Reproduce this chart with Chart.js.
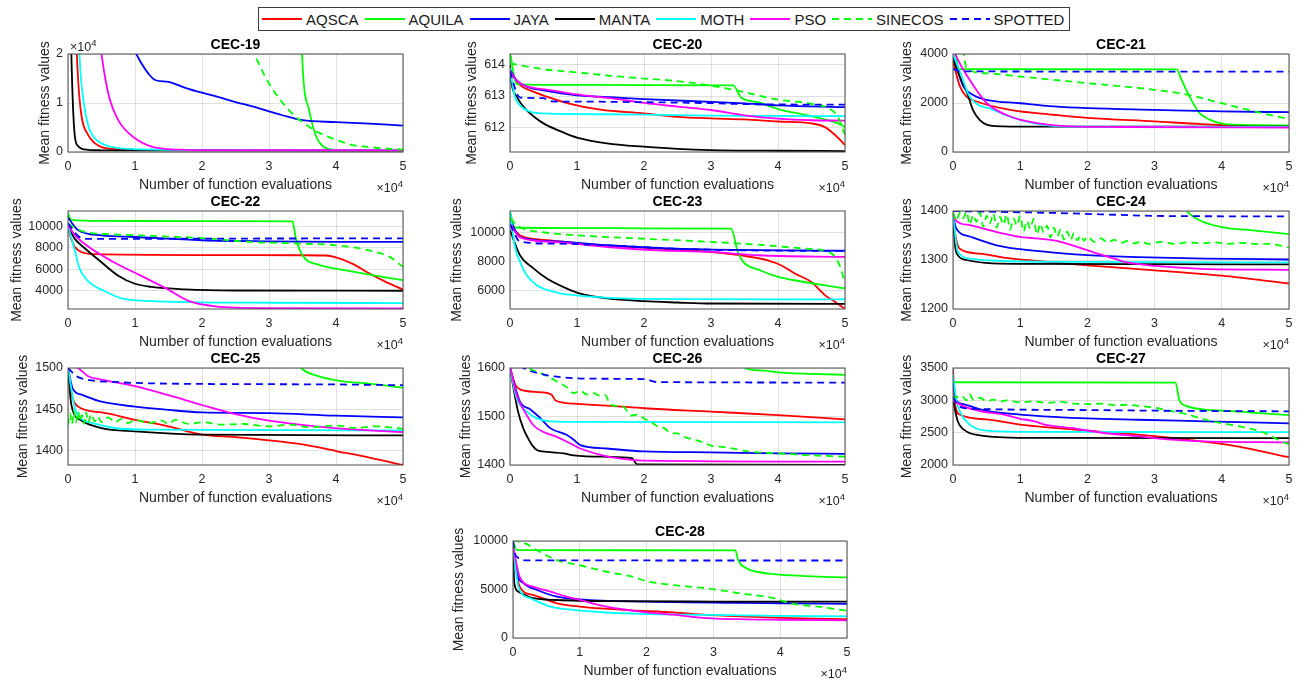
<!DOCTYPE html>
<html>
<head>
<meta charset="utf-8">
<script src="https://cdn.jsdelivr.net/npm/chart.js@4"></script>
<style>
  body { margin: 0; width: 1306px; height: 682px; background: #fff; overflow: hidden; position: relative;
         font-family: "Liberation Sans", Arial, sans-serif; }
  .panel { position: absolute; }
  #legend { position: absolute; left: 258px; top: 7px; width: 812px; height: 24px; box-sizing: border-box;
            border: 1px solid #3c3c3c; background: #fff; display: flex; align-items: center; padding-left: 3px;
            font-size: 15px; color: #1a1a1a; }
  .item { display: flex; align-items: center; margin-right: 6px; }
  .swatch { width: 40px; height: 2px; margin-right: 4px; }
</style>
</head>
<body>
<div id="legend"></div>
<script>
const algorithms = ['AQSCA', 'AQUILA', 'JAYA', 'MANTA', 'MOTH', 'PSO', 'SINECOS', 'SPOTTED'];
const xTickValues = [0, 1, 2, 3, 4, 5];   // x in units of 10^4 function evaluations

// CEC-19
const cec19_AQSCA = [[0,60000],[0.05,45000],[0.1,30000],[0.15,15000],[0.2,7500],[0.3,3500],[0.4,1800],[0.5,1000],[0.6,700],[0.75,550],[1,450],[1.5,420],[5,400]];
const cec19_AQUILA = [[0,90000],[3.3,80000],[3.45,40000],[3.5,18000],[3.6,8500],[3.75,2000],[4,450],[4.5,380],[5,370]];
const cec19_JAYA = [[0,60000],[0.5,35000],[0.9,23000],[1,20500],[1.1,18000],[1.2,16000],[1.3,14700],[1.5,14300],[1.75,13100],[2,12100],[2.25,11200],[2.5,10200],[2.75,9300],[3,8300],[3.2,7500],[3.5,6500],[4,6100],[4.5,5800],[5,5400]];
const cec19_MANTA = [[0,60000],[0.05,20000],[0.1,3500],[0.15,1200],[0.2,700],[0.3,450],[0.5,350],[1,320],[5,300]];
const cec19_MOTH = [[0,60000],[0.1,40000],[0.15,25000],[0.2,14000],[0.3,5500],[0.4,2800],[0.5,1800],[0.6,1200],[0.75,800],[1,600],[1.5,450],[2,400],[5,380]];
const cec19_PSO = [[0,90000],[0.4,32000],[0.5,20000],[0.6,12000],[0.75,6500],[1,2800],[1.25,1100],[1.5,600],[1.75,450],[2,400],[5,350]];
const cec19_SINECOS = [[0,90000],[2.5,30000],[2.75,21000],[3,14000],[3.3,8500],[3.5,6100],[3.75,3900],[4,2500],[4.25,1400],[4.5,1000],[4.75,700],[5,500]];
const cec19_SPOTTED = [[0,90000],[5,80000]];

// CEC-20
const cec20_AQSCA = [[0,613.75],[0.15,613.35],[0.3,613.18],[0.55,612.98],[0.85,612.77],[1.35,612.56],[2,612.44],[2.5,612.33],[3,612.28],[3.5,612.25],[4,612.18],[4.5,612.12],[4.7,612.0],[4.9,611.65],[5,611.42]];
const cec20_AQUILA = [[0,614.4],[0.1,613.38],[0.5,613.36],[2,613.35],[3.33,613.34],[3.45,612.95],[3.7,612.8],[4,612.58],[4.5,612.35],[4.9,612.12],[5,612.0]];
const cec20_JAYA = [[0,613.85],[0.1,613.5],[0.25,613.3],[0.5,613.18],[1,613.02],[1.5,612.96],[2,612.9],[3,612.81],[3.5,612.76],[4,612.7],[5,612.64]];
const cec20_MANTA = [[0,614.0],[0.025,613.4],[0.1,612.98],[0.2,612.66],[0.35,612.35],[0.5,612.12],[0.75,611.87],[1,611.66],[1.5,611.46],[2,611.37],[2.5,611.3],[3,611.26],[4,611.24],[5,611.23]];
const cec20_MOTH = [[0,613.9],[0.07,613.0],[0.15,612.7],[0.3,612.5],[0.5,612.44],[1,612.42],[2,612.4],[3,612.37],[4,612.36],[5,612.35]];
const cec20_PSO = [[0,613.8],[0.1,613.5],[0.2,613.35],[0.6,613.19],[1,613.05],[1.5,612.93],[2,612.78],[2.5,612.66],[3,612.55],[3.5,612.38],[4,612.27],[4.5,612.22],[5,612.21]];
const cec20_SINECOS = [[0,614.05],[0.5,613.86],[1,613.76],[1.5,613.65],[2,613.56],[2.5,613.48],[3,613.33],[3.33,613.2],[3.7,613.02],[4,612.88],[4.5,612.75],[4.8,612.55],[4.9,612.3],[5,611.75]];
const cec20_SPOTTED = [[0,613.8],[0.1,613.1],[0.15,612.95],[0.5,612.93],[0.6,612.83],[1,612.82],[2,612.8],[3,612.77],[3.5,612.74],[5,612.72]];

// CEC-21
const cec21_AQSCA = [[0,3700],[0.1,2700],[0.2,2260],[0.35,2060],[0.85,1720],[1.5,1520],[2,1390],[3,1250],[3.7,1140],[4.5,1070],[5,1045]];
const cec21_AQUILA = [[0,4100],[0.05,3900],[0.08,3380],[1,3378],[3.33,3376],[3.4,2950],[3.52,2260],[3.67,1590],[3.82,1320],[4.02,1150],[4.5,1095],[5,1085]];
const cec21_JAYA = [[0,4000],[0.05,3500],[0.15,2700],[0.3,2330],[0.5,2130],[1,1990],[1.5,1860],[2,1790],[3,1720],[4,1655],[5,1625]];
const cec21_MANTA = [[0,3800],[0.1,3100],[0.2,2500],[0.3,1700],[0.4,1300],[0.5,1120],[0.75,1045],[1,1035],[5,1030]];
const cec21_MOTH = [[0,4000],[0.1,3300],[0.25,2260],[0.6,1720],[1,1310],[1.35,1110],[1.75,1040],[2.5,1030],[5,1020]];
const cec21_PSO = [[0,4300],[0.05,3900],[0.25,2940],[0.5,2000],[0.85,1450],[1.25,1180],[1.75,1050],[2.5,1020],[5,1000]];
const cec21_SINECOS = [[0,4500],[0.15,4100],[0.2,3420],[0.5,3210],[1,3080],[2,2810],[3,2540],[3.5,2330],[4,1990],[4.5,1650],[5,1340]];
const cec21_SPOTTED = [[0,3400],[0.1,3290],[5,3280]];

// CEC-22
const cec22_AQSCA = [[0,9800],[0.05,8800],[0.1,8100],[0.2,7600],[0.4,7400],[2,7320],[3.5,7300],[3.85,7280],[4,7100],[4.25,6500],[4.5,5600],[4.75,4800],[5,4120]];
const cec22_AQUILA = [[0,11200],[0.05,10600],[0.5,10500],[2,10480],[3.35,10450],[3.4,8900],[3.5,7300],[3.75,6400],[4,6050],[4.5,5500],[5,4990]];
const cec22_JAYA = [[0,10800],[0.15,9650],[0.5,9150],[1,9000],[2,8700],[3,8600],[4,8550],[5,8540]];
const cec22_MANTA = [[0,10000],[0.1,8850],[0.25,7950],[0.5,6650],[0.75,5400],[1,4650],[1.25,4350],[1.75,4120],[2.5,4020],[5,4000]];
const cec22_MOTH = [[0,10000],[0.1,7800],[0.17,6100],[0.3,4900],[0.55,3950],[0.8,3300],[1.2,3050],[2,2920],[3,2880],[5,2850]];
const cec22_PSO = [[0,10100],[0.1,9200],[0.27,8250],[0.67,6700],[1.07,5450],[1.47,4200],[1.8,3050],[2.2,2550],[3,2380],[5,2350]];
const cec22_SINECOS = [[0,10200],[0.25,9470],[0.75,9230],[1.25,9100],[2,8900],[2.7,8550],[3.5,8380],[4,8230],[4.5,7750],[4.8,7150],[5,6220]];
const cec22_SPOTTED = [[0,10300],[0.15,9100],[0.3,8820],[1,8830],[2,8850],[3,8860],[5,8870]];

// CEC-23
const cec23_AQSCA = [[0,10600],[0.15,9840],[0.6,9490],[1.35,9150],[2.2,8920],[3,8680],[3.45,8450],[3.85,8100],[4.05,7750],[4.25,7200],[4.5,6600],[4.7,5700],[4.85,5240],[5,4750]];
const cec23_AQUILA = [[0,11500],[0.07,10380],[1,10340],[2,10320],[3.3,10300],[3.4,8700],[3.48,8000],[3.73,7420],[4,6960],[4.33,6660],[4.68,6390],[5,6160]];
const cec23_JAYA = [[0,10900],[0.15,9720],[0.7,9420],[1.45,9150],[2.2,8960],[3,8850],[4,8800],[5,8770]];
const cec23_MANTA = [[0,10200],[0.15,8450],[0.35,7550],[0.55,6850],[0.85,6150],[1.05,5800],[1.45,5470],[2,5280],[2.5,5190],[3,5120],[5,5100]];
const cec23_MOTH = [[0,11500],[0.07,9150],[0.15,8000],[0.25,7080],[0.4,6390],[0.65,5930],[0.95,5700],[1.7,5470],[2.5,5420],[5,5400]];
const cec23_PSO = [[0,10600],[0.15,9700],[0.7,9370],[1.45,9030],[2.2,8800],[3,8690],[3.7,8460],[5,8340]];
const cec23_SINECOS = [[0,11000],[0.15,10400],[0.5,10050],[1,9840],[2,9600],[3,9380],[3.7,9190],[4.4,8920],[4.78,8640],[4.93,7650],[5,6500]];
const cec23_SPOTTED = [[0,10600],[0.15,9400],[0.7,9260],[1.45,9150],[2.45,8920],[3.45,8800],[5,8760]];

// CEC-24
const cec24_AQSCA = [[0,1385],[0.05,1340],[0.1,1323],[0.4,1313],[0.75,1305],[1.25,1298],[2,1289],[3,1279],[4,1268],[5,1252]];
const cec24_AQUILA = [[0,1430],[3.4,1420],[3.48,1400],[3.67,1381],[4,1367],[4.5,1360],[5,1353]];
const cec24_JAYA = [[0,1390],[0.05,1364],[0.25,1348],[0.65,1330],[1,1322],[1.5,1315],[2,1310],[2.75,1306],[3.75,1303],[5,1301]];
const cec24_MANTA = [[0,1390],[0.03,1330],[0.07,1310],[0.2,1300],[0.5,1294],[1,1292],[5,1291]];
const cec24_MOTH = [[0,1392],[0.07,1318],[0.25,1303],[0.75,1298],[2,1296],[5,1295]];
const cec24_PSO = [[0,1395],[0.05,1380],[0.25,1371],[0.75,1354],[1,1347],[1.5,1340],[1.85,1327],[2.15,1313],[2.4,1303],[2.55,1296],[2.75,1292],[3,1288],[3.7,1282],[5,1280]];
const cec24_SINECOS = [[0,1398],[0.05,1380],[0.1,1396],[0.15,1385],[0.2,1399],[0.25,1372],[0.3,1392],[0.35,1378],[0.4,1397],[0.45,1368],[0.5,1390],[0.55,1375],[0.6,1395],[0.65,1366],[0.7,1388],[0.75,1372],[0.8,1393],[0.85,1362],[0.9,1385],[0.95,1370],[1.0,1390],[1.05,1358],[1.1,1380],[1.15,1364],[1.2,1384],[1.25,1352],[1.3,1374],[1.35,1356],[1.4,1370],[1.45,1346],[1.5,1366],[1.55,1348],[1.6,1362],[1.65,1342],[1.7,1358],[1.75,1341],[1.8,1355],[1.85,1340],[1.9,1350],[1.95,1339],[2.0,1348],[2.1,1337],[2.2,1344],[2.3,1336],[2.4,1341],[2.5,1335],[2.6,1339],[2.7,1334],[2.8,1338],[2.9,1333],[3.1,1337],[3.3,1333],[3.5,1336],[3.7,1334],[3.9,1336],[4.1,1333],[4.3,1335],[4.5,1333],[4.7,1333],[4.85,1330],[5,1325]];
const cec24_SPOTTED = [[0,1400],[1.5,1396],[2.5,1392],[3,1390],[5,1389]];

// CEC-25
const cec25_AQSCA = [[0,1500],[0.05,1470],[0.15,1453],[0.5,1446],[1,1437],[1.5,1429],[2,1419],[2.5,1416],[3,1412],[3.5,1407],[4,1399],[4.5,1391],[5,1382]];
const cec25_AQUILA = [[0,1520],[3.4,1510],[3.48,1500],[3.7,1491],[4,1485],[4.5,1481],[5,1476]];
const cec25_JAYA = [[0,1500],[0.07,1475],[0.22,1467],[0.5,1459],[1,1453],[1.5,1449],[2,1446],[3,1445],[4,1442],[5,1440]];
const cec25_MANTA = [[0,1500],[0.05,1455],[0.2,1436],[0.5,1427],[1,1423],[2,1419],[5,1418]];
const cec25_MOTH = [[0,1500],[0.12,1447],[0.37,1433],[0.7,1427],[1.2,1425],[5,1424]];
const cec25_PSO = [[0,1505],[0.15,1500],[0.3,1490],[0.5,1486],[1,1478],[1.5,1467],[2,1455],[2.5,1444],[3,1436],[3.7,1429],[4.3,1425],[5,1422]];
const cec25_SINECOS = [[0,1430],[0.03,1445],[0.06,1432],[0.09,1448],[0.12,1434],[0.15,1447],[0.18,1435],[0.21,1443],[0.24,1432],[0.27,1446],[0.3,1434],[0.35,1444],[0.4,1435],[0.45,1441],[0.5,1434],[0.6,1440],[0.7,1434],[0.8,1438],[0.9,1433],[1,1437],[1.2,1433],[1.4,1436],[1.5,1432],[1.6,1437],[1.8,1432],[2,1434],[2.3,1431],[2.6,1432],[3,1429],[3.3,1431],[3.6,1428],[4,1430],[4.3,1427],[4.6,1429],[5,1426]];
const cec25_SPOTTED = [[0,1500],[0.15,1489],[0.7,1483],[1.5,1481],[4,1480],[5,1479]];

// CEC-26
const cec26_AQSCA = [[0,1600],[0.08,1565],[0.15,1556],[0.45,1550],[0.62,1545],[0.68,1533],[1,1526],[1.5,1522],[2,1517],[3,1510],[4,1503],[5,1494]];
const cec26_AQUILA = [[0,1640],[3.45,1620],[3.51,1600],[3.75,1595],[4,1591],[4.5,1588],[5,1586]];
const cec26_JAYA = [[0,1600],[0.15,1530],[0.3,1515],[0.45,1497],[0.6,1476],[0.85,1462],[0.95,1452],[1.05,1441],[1.45,1434],[2,1428],[3,1426],[4,1424],[5,1423]];
const cec26_MANTA = [[0,1600],[0.12,1510],[0.2,1475],[0.27,1455],[0.33,1441],[0.4,1431],[0.55,1427],[0.8,1424],[0.95,1420],[1.45,1417],[1.82,1414],[1.9,1401],[5,1400]];
const cec26_MOTH = [[0,1600],[0.1,1537],[0.25,1510],[0.4,1496],[0.6,1490],[1,1489],[5,1488]];
const cec26_PSO = [[0,1605],[0.1,1544],[0.22,1510],[0.35,1482],[0.5,1468],[0.7,1458],[0.85,1448],[1.05,1434],[1.35,1421],[1.6,1414],[2,1409],[5,1407]];
const cec26_SINECOS = [[0,1660],[0.2,1610],[0.3,1598],[0.45,1590],[0.6,1580],[0.7,1572],[0.85,1560],[0.95,1548],[1.05,1553],[1.15,1545],[1.25,1548],[1.34,1543],[1.42,1544],[1.5,1524],[1.6,1522],[1.7,1520],[1.75,1510],[1.8,1502],[1.9,1504],[2.0,1496],[2.1,1489],[2.2,1480],[2.3,1476],[2.4,1466],[2.5,1465],[2.6,1458],[2.75,1452],[2.9,1446],[3.0,1440],[3.2,1437],[3.4,1432],[3.6,1427],[4,1424],[4.5,1420],[5,1417]];
const cec26_SPOTTED = [[0,1620],[0.2,1600],[0.45,1588],[0.7,1582],[1.2,1578],[2,1577],[2.2,1571],[5,1570]];

// CEC-27
const cec27_AQSCA = [[0,3480],[0.03,2950],[0.1,2780],[0.5,2705],[1,2625],[1.5,2575],[2,2530],[2.75,2470],[3.5,2390],[4.25,2285],[5,2120]];
const cec27_AQUILA = [[0,3280],[3.31,3275],[3.37,3000],[3.48,2910],[3.72,2860],[4.2,2830],[4.5,2805],[5,2770]];
const cec27_JAYA = [[0,3300],[0.05,3000],[0.15,2940],[0.5,2835],[1,2780],[1.5,2745],[2,2720],[2.75,2700],[3.75,2676],[5,2645]];
const cec27_MANTA = [[0,3000],[0.07,2680],[0.2,2520],[0.4,2458],[0.75,2428],[1.25,2418],[5,2415]];
const cec27_MOTH = [[0,3400],[0.05,3000],[0.1,2833],[0.25,2625],[0.5,2530],[1,2512],[5,2508]];
const cec27_PSO = [[0,3000],[0.15,2910],[0.4,2835],[0.75,2780],[1,2715],[1.2,2680],[1.35,2630],[1.75,2573],[2.25,2495],[2.75,2445],[3.25,2392],[3.75,2365],[5,2350]];
const cec27_SINECOS = [[0,3010],[0.05,3060],[0.1,3020],[0.15,3050],[0.2,3000],[0.25,3090],[0.3,3010],[0.4,3040],[0.5,2985],[0.6,3010],[0.7,2980],[0.8,3000],[1,2970],[1.2,2985],[1.4,2960],[1.6,2975],[1.8,2950],[2,2940],[2.2,2950],[2.4,2925],[2.6,2930],[2.75,2915],[3,2885],[3.25,2833],[3.5,2780],[3.75,2700],[4.25,2600],[4.6,2510],[4.9,2360],[5,2320]];
const cec27_SPOTTED = [[0,3050],[0.1,2900],[0.3,2870],[2,2850],[3,2840],[5,2830]];

// CEC-28
const cec28_AQSCA = [[0,9000],[0.1,5300],[0.3,4440],[0.66,3580],[1,3240],[1.65,2900],[2.4,2630],[2.9,2390],[3.4,2220],[4.15,2050],[5,1945]];
const cec28_AQUILA = [[0,10000],[0.06,9050],[3.33,9040],[3.37,8020],[3.5,7170],[3.65,6830],[3.9,6590],[4.4,6380],[5,6240]];
const cec28_JAYA = [[0,9500],[0.06,6650],[0.16,5630],[0.36,4950],[0.66,4270],[1,3990],[2,3750],[4,3580],[5,3515]];
const cec28_MANTA = [[0,9000],[0.02,5630],[0.08,4780],[0.3,4100],[0.65,3920],[1.5,3800],[3,3760],[5,3750]];
const cec28_MOTH = [[0,9500],[0.08,5290],[0.26,4100],[0.56,3240],[0.9,2900],[1.4,2630],[1.9,2490],[2.9,2390],[3.9,2290],[5,2220]];
const cec28_PSO = [[0,9500],[0.1,6300],[0.3,5290],[0.56,4780],[0.8,4270],[1,3930],[1.4,3240],[1.9,2730],[2.4,2400],[2.9,2050],[3.5,1920],[4,1880],[5,1810]];
const cec28_SINECOS = [[0,10200],[0.06,10000],[0.2,9700],[0.36,9040],[0.66,8020],[1,7500],[1.4,6830],[1.8,6300],[2,5850],[2.4,5460],[2.9,5120],[3.4,4600],[3.9,4100],[4.15,3580],[4.65,3170],[5,2800]];
const cec28_SPOTTED = [[0,10000],[0.03,8700],[0.07,8300],[0.2,8000],[5,7990]];

const panelTitles = ['CEC-19','CEC-20','CEC-21','CEC-22','CEC-23','CEC-24','CEC-25','CEC-26','CEC-27','CEC-28'];
const panelSeries = [
  [cec19_AQSCA, cec19_AQUILA, cec19_JAYA, cec19_MANTA, cec19_MOTH, cec19_PSO, cec19_SINECOS, cec19_SPOTTED],
  [cec20_AQSCA, cec20_AQUILA, cec20_JAYA, cec20_MANTA, cec20_MOTH, cec20_PSO, cec20_SINECOS, cec20_SPOTTED],
  [cec21_AQSCA, cec21_AQUILA, cec21_JAYA, cec21_MANTA, cec21_MOTH, cec21_PSO, cec21_SINECOS, cec21_SPOTTED],
  [cec22_AQSCA, cec22_AQUILA, cec22_JAYA, cec22_MANTA, cec22_MOTH, cec22_PSO, cec22_SINECOS, cec22_SPOTTED],
  [cec23_AQSCA, cec23_AQUILA, cec23_JAYA, cec23_MANTA, cec23_MOTH, cec23_PSO, cec23_SINECOS, cec23_SPOTTED],
  [cec24_AQSCA, cec24_AQUILA, cec24_JAYA, cec24_MANTA, cec24_MOTH, cec24_PSO, cec24_SINECOS, cec24_SPOTTED],
  [cec25_AQSCA, cec25_AQUILA, cec25_JAYA, cec25_MANTA, cec25_MOTH, cec25_PSO, cec25_SINECOS, cec25_SPOTTED],
  [cec26_AQSCA, cec26_AQUILA, cec26_JAYA, cec26_MANTA, cec26_MOTH, cec26_PSO, cec26_SINECOS, cec26_SPOTTED],
  [cec27_AQSCA, cec27_AQUILA, cec27_JAYA, cec27_MANTA, cec27_MOTH, cec27_PSO, cec27_SINECOS, cec27_SPOTTED],
  [cec28_AQSCA, cec28_AQUILA, cec28_JAYA, cec28_MANTA, cec28_MOTH, cec28_PSO, cec28_SINECOS, cec28_SPOTTED]
];
const yLimits = [[0,20000],[611.2,614.35],[0,4000],[2300,11420],[4740,11520],[1200,1400],[1382,1500],[1400,1600],[2000,3500],[0,10000]];
const yTickValues = [[0,10000,20000],[612,613,614],[0,2000,4000],[4000,6000,8000,10000],[6000,8000,10000],[1200,1300,1400],[1400,1450,1500],[1400,1500,1600],[2000,2500,3000,3500],[0,5000,10000]];
const yTickDivisor = [10000,1,1,1,1,1,1,1,1,1];

// layout: plot area left, top, width, height (px) and y-title offset
const plotBoxes = [
  [68,54,335,98],[510,54,335,98],[953,54,336,98],
  [68,211,335,98],[510,211,335,98],[953,211,336,98],
  [68,368,335,97],[510,368,335,97],[953,368,336,97],
  [513,541,334,97]
];
const yTitleOffset = [36.6,21.6,13.6,8.6,6.6,13.6,14.6,15.6,13.6,5.6];

const colors = ['#ff0000','#00ff00','#0000ff','#000000','#00ffff','#ff00ff','#00ff00','#0000ff'];
const dashes = [[],[],[],[],[],[],[7,5],[7,5]];
const AXIS_W = 68, TITLE_H = 24, XAXIS_H = 46, PAD_R = 14;
const textColor = '#262626';
const gridColor = 'rgba(0,0,0,0.12)';

// legend
const legend = document.getElementById('legend');
algorithms.forEach((name, i) => {
  const item = document.createElement('div');
  item.className = 'item';
  const sw = document.createElement('span');
  sw.className = 'swatch';
  sw.style.background = dashes[i].length
    ? `repeating-linear-gradient(90deg, ${colors[i]} 0 7px, transparent 7px 12px)`
    : colors[i];
  const label = document.createElement('span');
  label.textContent = name;
  item.appendChild(sw);
  item.appendChild(label);
  legend.appendChild(item);
});

function drawExponent(ctx, x, y, align) {
  ctx.save();
  ctx.fillStyle = textColor;
  ctx.textBaseline = 'alphabetic';
  ctx.font = '12.5px "Liberation Sans", Arial, sans-serif';
  const base = '\u00d710';
  const wBase = ctx.measureText(base).width;
  ctx.font = '9.5px "Liberation Sans", Arial, sans-serif';
  const wExp = ctx.measureText('4').width;
  const left = align === 'right' ? x - wBase - wExp : x;
  ctx.font = '12.5px "Liberation Sans", Arial, sans-serif';
  ctx.textAlign = 'left';
  ctx.fillText(base, left, y);
  ctx.font = '9.5px "Liberation Sans", Arial, sans-serif';
  ctx.fillText('4', left + wBase, y - 5);
  ctx.restore();
}

const framePlugin = {
  id: 'frame',
  afterDraw(chart) {
    const {ctx, chartArea: a} = chart;
    ctx.save();
    ctx.strokeStyle = '#4d4d4d';
    ctx.lineWidth = 1;
    ctx.strokeRect(a.left, a.top, a.right - a.left, a.bottom - a.top);
    ctx.restore();
    drawExponent(ctx, a.right, a.bottom + 39.5, 'right');
    if (chart.options.plugins.frame.yExponent) drawExponent(ctx, a.left + 2, a.top - 3.5, 'left');
  }
};

panelTitles.forEach((title, p) => {
  const [px, py, pw, ph] = plotBoxes[p];
  const W = pw + AXIS_W + PAD_R, H = ph + TITLE_H + XAXIS_H;
  const wrap = document.createElement('div');
  wrap.className = 'panel';
  wrap.style.left = (px - AXIS_W) + 'px';
  wrap.style.top = (py - TITLE_H) + 'px';
  const cv = document.createElement('canvas');
  cv.width = W; cv.height = H;
  wrap.appendChild(cv);
  document.body.appendChild(wrap);

  const datasets = panelSeries[p].map((pts, i) => ({
    label: algorithms[i],
    data: pts.map(([x, y]) => ({x, y})),
    borderColor: colors[i],
    borderWidth: 1.8,
    borderDash: dashes[i],
    pointRadius: 0,
    fill: false,
    cubicInterpolationMode: 'monotone',
    order: 7 - i,
    clip: 0
  }));

  new Chart(cv, {
    type: 'line',
    data: { datasets },
    plugins: [framePlugin],
    options: {
      responsive: false,
      devicePixelRatio: 1,
      animation: false,
      layout: { padding: { left: 0, right: PAD_R, top: 0, bottom: 0 } },
      plugins: {
        legend: { display: false },
        tooltip: { enabled: false },
        frame: { yExponent: yTickDivisor[p] !== 1 },
        title: {
          display: true, text: title, fullSize: false, color: '#000',
          font: { size: 14, weight: 'bold', family: '"Liberation Sans", Arial, sans-serif' },
          padding: { top: 7, bottom: 0.2 }
        }
      },
      scales: {
        x: {
          type: 'linear', min: 0, max: 5,
          afterBuildTicks: s => { s.ticks = xTickValues.map(v => ({value: v})); },
          afterFit: s => { s.height = XAXIS_H; },
          grid: { color: gridColor, drawTicks: false },
          border: { display: false },
          ticks: { padding: 7, color: textColor, maxRotation: 0, autoSkip: false,
                   font: { size: 12.5, family: '"Liberation Sans", Arial, sans-serif' },
                   callback: v => String(v) },
          title: { display: true, text: 'Number of function evaluations', color: textColor,
                   font: { size: 14, family: '"Liberation Sans", Arial, sans-serif' },
                   padding: { top: 0, bottom: 4.6 } }
        },
        y: {
          type: 'linear', min: yLimits[p][0], max: yLimits[p][1],
          afterBuildTicks: s => { s.ticks = yTickValues[p].map(v => ({value: v})); },
          afterFit: s => { s.width = AXIS_W; },
          grid: { color: gridColor, drawTicks: false },
          border: { display: false },
          ticks: { padding: 5, color: textColor, autoSkip: false,
                   font: { size: 12.5, family: '"Liberation Sans", Arial, sans-serif' },
                   callback: v => String(v / yTickDivisor[p]) },
          title: { display: true, text: 'Mean fitness values', color: textColor,
                   font: { size: 14, family: '"Liberation Sans", Arial, sans-serif' },
                   padding: { top: yTitleOffset[p], bottom: 0 } }
        }
      }
    }
  });
});
</script>
</body>
</html>
